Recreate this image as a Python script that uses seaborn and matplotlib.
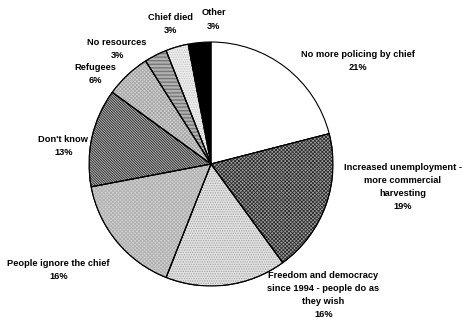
import matplotlib
matplotlib.use("Agg")
import matplotlib.pyplot as plt
from matplotlib.patches import Wedge
import seaborn as sns

sns.set_theme(style="white")
plt.rcParams["font.family"] = ["Liberation Sans", "DejaVu Sans"]
plt.rcParams["hatch.linewidth"] = 0.6

categories = [
    "No more policing by chief",
    "Increased unemployment -\nmore commercial\nharvesting",
    "Freedom and democracy\nsince 1994 - people do as\nthey wish",
    "People ignore the chief",
    "Don't know",
    "Refugees",
    "No resources",
    "Chief died",
    "Other",
]
shares = [21, 19, 16, 16, 13, 6, 3, 3, 3]

# fill colour, hatch pattern and hatch colour for each slice
faces = ["white", "#a2a2a2", "#e2e2e2", "#d0d0d0", "#bcbcbc", "#d3d3d3", "#f4f4f4", "#ececec", "black"]
hatches = [None, "x" * 9, "." * 7, "x" * 9, "\\" * 13, "x" * 9, "-" * 12, "." * 7, None]
hatch_colors = [None, "#2e2e2e", "#a0a0a0", "#b0b0b0", "#1e1e1e", "#a4a4a4", "#606060", "#c4c4c4", None]

# label anchor points (data units, pie radius = 1)
label_xy = [
    (1.205, 0.845),
    (1.57, -0.19),
    (0.92, -1.075),
    (-1.25, -0.87),
    (-1.21, 0.15),
    (-0.95, 0.74),
    (-0.77, 0.94),
    (-0.335, 1.15),
    (0.02, 1.185),
]

fig = plt.figure(figsize=(4.64, 3.2), dpi=100)
ax = fig.add_axes([89 / 464, 34 / 320, 244 / 464, 244 / 320])

wedges, _ = ax.pie(
    shares,
    startangle=90,
    counterclock=False,
    radius=1.0,
    wedgeprops=dict(edgecolor="black", linewidth=0.8),
)
for w, fc, h, hc in zip(wedges, faces, hatches, hatch_colors):
    w.set_facecolor(fc)
    if h:
        # texture layer in its own colour, kept beneath the slice outline
        tex = Wedge(w.center, w.r, w.theta1, w.theta2, facecolor="none",
                    edgecolor=hc, linewidth=0, hatch=h, zorder=w.get_zorder() + 0.1)
        ax.add_patch(tex)
        outline = Wedge(w.center, w.r, w.theta1, w.theta2, facecolor="none",
                        edgecolor="black", linewidth=0.8, zorder=w.get_zorder() + 0.2)
        ax.add_patch(outline)

ax.set_xlim(-1, 1)
ax.set_ylim(-1, 1)
ax.set_aspect("equal")
ax.axis("off")

for name, share, (x, y) in zip(categories, shares, label_xy):
    ax.text(x, y, f"{name}\n{share}%", ha="center", va="center",
            fontsize=6.7, fontweight="bold", linespacing=1.6,
            color="black", clip_on=False)

fig.savefig("out.png", dpi=100)
